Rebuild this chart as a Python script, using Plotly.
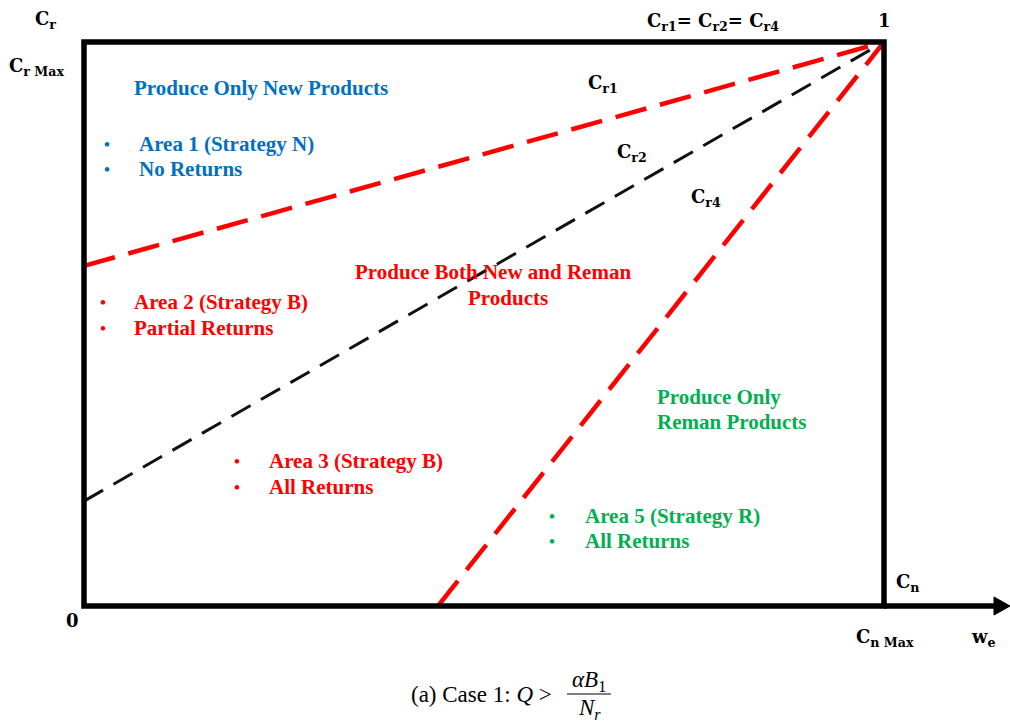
import plotly.graph_objects as go

# Threshold lines in the (w_e, C_r) plane; every line ends at the corner (1, 1)
line_names = ["C<sub>r1</sub>", "C<sub>r2</sub>", "C<sub>r4</sub>"]
start_x = [0.0, 0.0, 0.4425]
start_y = [0.603, 0.186, 0.0]
end_x = [1.0, 1.0, 1.0]
end_y = [1.0, 1.0, 1.0]
line_colors = ["#FF0000", "#111111", "#FF0000"]
line_widths = [4.5, 3, 4.5]
line_dashes = ["32px,14px", "22px,12px", "32px,14px"]

W, H = 1010, 724
# pixel frame of the unit box
X0, X1, Y0, Y1 = 84, 884, 606, 42
sx = (X1 - X0)
sy = (Y0 - Y1)
x_range = [-X0 / sx, (W - X0) / sx]
y_range = [-(H - Y0) / sy, 1 + Y1 / sy]


def dx(p):
    return (p - X0) / sx


def dy(p):
    return (Y0 - p) / sy


fig = go.Figure()

for i in range(len(line_names)):
    fig.add_trace(go.Scatter(
        x=[start_x[i], end_x[i]], y=[start_y[i], end_y[i]],
        mode="lines", name=line_names[i], showlegend=False,
        line=dict(color=line_colors[i], width=line_widths[i], dash=line_dashes[i]),
        hoverinfo="skip",
    ))

# frame of the region
fig.add_shape(type="rect", x0=0, y0=0, x1=1, y1=1,
              line=dict(color="black", width=5.5), layer="above")
# horizontal axis extension with arrow head
fig.add_shape(type="line", x0=1, y0=0, x1=dx(998), y1=0,
              line=dict(color="black", width=5.5), layer="above")
fig.add_shape(type="path",
              path=f"M {dx(994)},{dy(597)} L {dx(1010)},{dy(606)} L {dx(994)},{dy(615)} Z",
              fillcolor="black", line=dict(color="black", width=1), layer="above")

SERIF = "Liberation Serif"
MATHS = "DejaVu Serif"
BLUE = "#0070C0"
RED = "#FF0000"
GREEN = "#00B050"


def label(x, y, text, color="black", size=21, anchor="center", bold=True, family=SERIF):
    fig.add_annotation(
        x=dx(x), y=dy(y), xref="x", yref="y", text=f"<b>{text}</b>" if bold else text,
        showarrow=False, xanchor=anchor, yanchor="middle",
        font=dict(family=family, size=size, color=color),
    )


def sym(x, y, text, anchor="center"):
    label(x, y, text, size=18, anchor=anchor, family=MATHS)


# axis labels
sym(45, 20, "C<sub>r</sub>")
sym(36, 67, "C<sub>r Max</sub>")
sym(713, 22, "C<sub>r1</sub>= C<sub>r2</sub>= C<sub>r4</sub>")
sym(884, 20, "1")
sym(72, 620, "0")
sym(908, 583, "C<sub>n</sub>")
sym(885, 638, "C<sub>n Max</sub>")
sym(983, 638, "w<sub>e</sub>")

# line labels
sym(603, 84, line_names[0])
sym(632, 153, line_names[1])
sym(706, 198, line_names[2])

# region descriptions
label(261, 88, "Produce Only New Products", BLUE)
label(107, 144, "•", BLUE, 17)
label(137, 144, "Area 1 (Strategy N)", BLUE, anchor="left")
label(107, 169, "•", BLUE, 17)
label(137, 169, "No Returns", BLUE, anchor="left")

label(103, 302, "•", RED, 17)
label(132, 302, "Area 2 (Strategy B)", RED, anchor="left")
label(103, 328, "•", RED, 17)
label(132, 328, "Partial Returns", RED, anchor="left")

label(493, 272, "Produce Both New and Reman", RED)
label(508, 298, "Products", RED)

label(237, 461, "•", RED, 17)
label(267, 461, "Area 3 (Strategy B)", RED, anchor="left")
label(237, 487, "•", RED, 17)
label(267, 487, "All Returns", RED, anchor="left")

label(655, 397, "Produce Only", GREEN, anchor="left")
label(655, 422, "Reman Products", GREEN, anchor="left")

label(552, 516, "•", GREEN, 17)
label(583, 516, "Area 5 (Strategy R)", GREEN, anchor="left")
label(552, 541, "•", GREEN, 17)
label(583, 541, "All Returns", GREEN, anchor="left")

# caption
label(554, 694, "(a) Case 1: <i>Q</i> &gt;", size=23, anchor="right", bold=False)
label(589, 681, "<i>αB</i><sub>1</sub>", size=23, bold=False)
label(589, 709, "<i>N<sub>r</sub></i>", size=23, bold=False)
fig.add_shape(type="line", x0=dx(567), y0=dy(694), x1=dx(611), y1=dy(694),
              line=dict(color="black", width=1))

fig.update_layout(
    width=W, height=H, autosize=False,
    margin=dict(l=0, r=0, t=0, b=0),
    paper_bgcolor="white", plot_bgcolor="white",
    xaxis=dict(range=x_range, visible=False, fixedrange=True),
    yaxis=dict(range=y_range, visible=False, fixedrange=True),
)

fig.write_html("out.html")
